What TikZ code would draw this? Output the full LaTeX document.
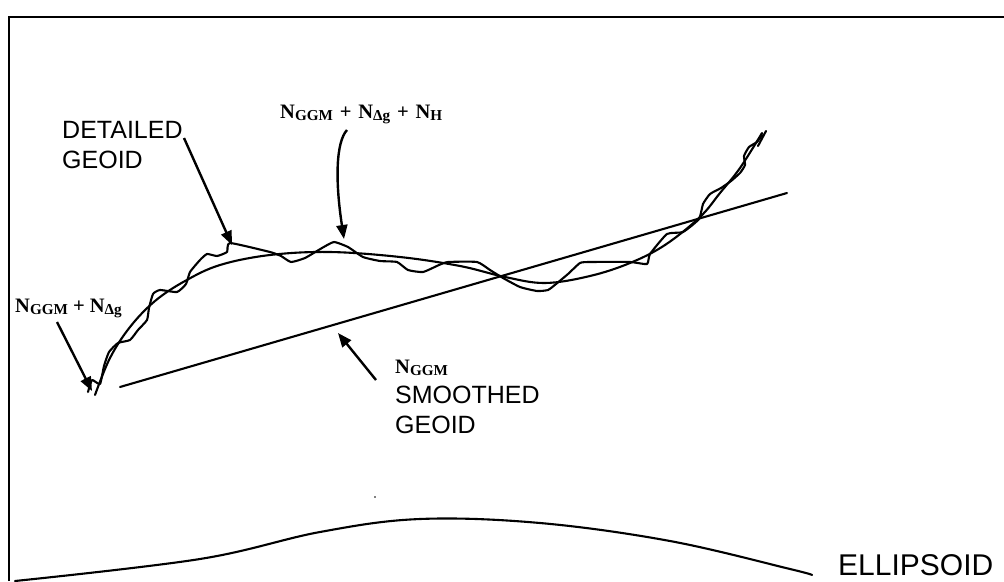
\documentclass[tikz,border=0pt]{standalone}
\usepackage{fontspec}
\setmainfont{Liberation Serif}
\newfontfamily\arialf{Liberation Sans}
\usetikzlibrary{arrows.meta}
\newcommand{\gsub}[1]{\raisebox{-0.14em}{\scalebox{0.74}{#1}}}
\tikzset{
  line/.style={line width=2.1pt, line cap=round, line join=round},
  arr/.style={line width=2.4pt, -{Triangle[length=14pt,width=11pt]}},
  sanslbl/.style={font=\arialf\fontsize{25}{30}\selectfont, anchor=base west, inner sep=0pt, align=left},
  nlbl/.style={font=\bfseries\fontsize{20.5}{22}\selectfont, anchor=base west, inner sep=0pt},
}
\begin{document}
\begin{tikzpicture}[x=1pt,y=-1pt]
\useasboundingbox (0,0) rectangle (1004,581);
% frame (top and left only)
\draw[line width=2.4pt] (9,581) -- (9,17) -- (1004,17);

% smoothed geoid (straight line)
\coordinate (sg1) at (120,387);
\coordinate (sg2) at (787,193);
\draw[line] (sg1) -- (sg2);

% N_GGM + N_dg curve
\draw[line] plot[smooth, tension=0.6] coordinates {
 (95,395) (110,358) (130,327) (155,301) (185,281) (220,265) (270,255)
 (330,252) (400,257) (460,266) (505,277) (545,283) (590,276) (630,263)
 (665,245) (700,217) (720,193) (740,168) (762,133)};

% detailed geoid
\draw[line] plot[smooth, tension=0.3] coordinates {
 (88,392) (92,380) (100,384) (104,366) (109,352) (118,343) (130,340) (138,330)
 (147,320) (149,308) (153,294) (160,290) (177,292) (186,284) (190,272) (200,260)
 (207,254) (217,256) (227,252) (230,243) (270,252) (281,256) (291,262) (305,258)
 (322,248) (334,242) (348,247) (363,257) (380,261) (397,262) (408,270) (423,272)
 (439,265) (448,262) (477,262) (490,270) (503,278) (520,287) (537,291) (548,290)
 (556,284) (568,274) (580,263) (590,262) (630,262) (647,264) (650,254) (667,234)
 (683,232) (699,219) (703,204) (710,194) (721,188) (731,181) (740,173) (745,165)
 (744,156) (749,147) (757,142) (762,135)};
\draw[line] (758,146) -- (766,131);

% ellipsoid
\draw[line] plot[smooth, tension=0.6] coordinates {
 (15,581) (200,559) (320,532) (420,519) (540,523) (670,541) (790,569) (812,575)};
\fill (375,497) circle (0.9);

% labels
\node[sanslbl] (det) at (62,168) {DETAILED\\GEOID};
\node[sanslbl] (smo) at (395,433) {SMOOTHED\\GEOID};
\node[font=\arialf\fontsize{30}{34}\selectfont, anchor=base west, inner sep=0pt] (ell) at (838,575) {ELLIPSOID};
\node[nlbl] (n3) at (280,118) {N\gsub{GGM}\,\,+\,\,N\gsub{Δg}\,\,+\,\,N\gsub{H}};
\node[nlbl] (n2) at (15,312) {N\gsub{GGM} + N\gsub{Δg}};
\node[nlbl] (n1) at (395,373) {N\gsub{GGM}};

% arrows
\coordinate (a1s) at (184,138);
\coordinate (a1e) at (232,245);
\draw[arr] (a1s) -- (a1e);
\coordinate (a2s) at (347,130);
\coordinate (a2e) at (344,239);
\draw[arr] (a2s) .. controls (336,142) and (335,180) .. (a2e);
\coordinate (a3s) at (57,322);
\coordinate (a3e) at (92,391);
\draw[arr] (a3s) -- (a3e);
\coordinate (a4s) at (376,380);
\coordinate (a4e) at (338,333);
\draw[arr] (a4s) -- (a4e);
\end{tikzpicture}
\end{document}
